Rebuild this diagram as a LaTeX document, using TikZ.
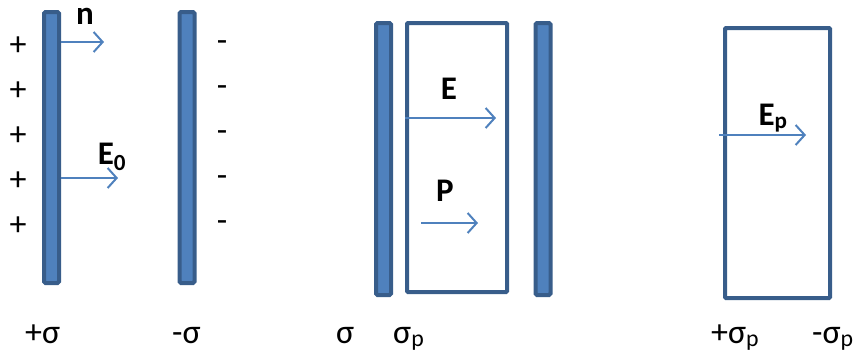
\documentclass[tikz,border=0pt]{standalone}
\usepackage{fontspec}
\setmainfont{Carlito}
\usepackage{tikz}
\usetikzlibrary{positioning, arrows.meta}

\definecolor{platefill}{HTML}{4F81BD}
\definecolor{plateedge}{HTML}{385D8A}

\begin{document}
\begin{tikzpicture}[x=1pt, y=-1pt,
                plate/.style={draw=plateedge, fill=platefill, line width=4pt, rounded corners=1.5pt, rectangle, minimum width=15pt, minimum height=271pt, inner sep=0pt},
                slab/.style={draw=plateedge, line width=4pt, rounded corners=1pt, rectangle, inner sep=0pt},
                field/.style={draw=platefill, line width=2pt, -{Straight Barb[length=9pt, width=20pt, line width=2pt]}},
                charge/.style={font=\fontsize{34}{36}\selectfont, inner sep=0pt},
                fieldlabel/.style={font=\fontsize{33}{35}\selectfont\bfseries, inner sep=0pt},
                sigmalabel/.style={font=\fontsize{34}{36}\selectfont, inner sep=0pt, anchor=base west}
            ]
            \useasboundingbox (0,0) rectangle (855,360);

            % Platten
            \node[plate] (pl1) at (51.5,147.5) {};
            \node[plate] (pl2) at (187,147.5) {};
            \node[plate, minimum height=272pt] (pl3) at (383.5,159) {};
            \node[slab, minimum width=100pt, minimum height=269pt] (die) at (457,157.5) {};
            \node[plate, minimum height=272pt] (pl4) at (543,159) {};
            \node[slab, minimum width=105pt, minimum height=270pt] (pol) at (777.5,163) {};

            % Ladungen
            \foreach \y [count=\i] in {46,91,136,181,226} {
                \node[charge] (plus\i) at (18,\y) {+};
                \node[charge] (minus\i) at (222,\y) {-};
            }

            % Pfeilenden
            \coordinate (nend) at (104,42);
            \coordinate (e0end) at (118,178);
            \coordinate (eend) at (496,118);
            \coordinate (pstart) at (421,223);
            \coordinate (pend) at (478,223);
            \coordinate (epend) at (806,135);

            % Pfeile
            \draw[field] (pl1.east |- nend) -- (nend);
            \draw[field] (pl1.east |- e0end) -- (e0end);
            \draw[field] (die.west |- eend) -- (eend);
            \draw[field] (pstart) -- (pend);
            \draw[field] ([xshift=-4pt] pol.west |- epend) -- (epend);

            % Beschriftungen
            \node[fieldlabel] (nlab) at (85,16) {n};
            \node[fieldlabel] (e0lab) at (112,157) {E\textsubscript{0}};
            \node[fieldlabel] (elab) at (449,89) {E};
            \node[fieldlabel] (plab) at (445,191) {P};
            \node[fieldlabel] (eplab) at (773,118) {E\textsubscript{p}};

            \node[sigmalabel] (s1) at (25,343) {+σ};
            \node[sigmalabel] (s2) at (172,343) {-σ};
            \node[sigmalabel] (s3) at (336,343) {σ};
            \node[sigmalabel] (s4) at (393,343) {σ\textsubscript{p}};
            \node[sigmalabel] (s5) at (711,343) {+σ\textsubscript{p}};
            \node[sigmalabel] (s6) at (812,343) {-σ\textsubscript{p}};
        \end{tikzpicture}
\end{document}
